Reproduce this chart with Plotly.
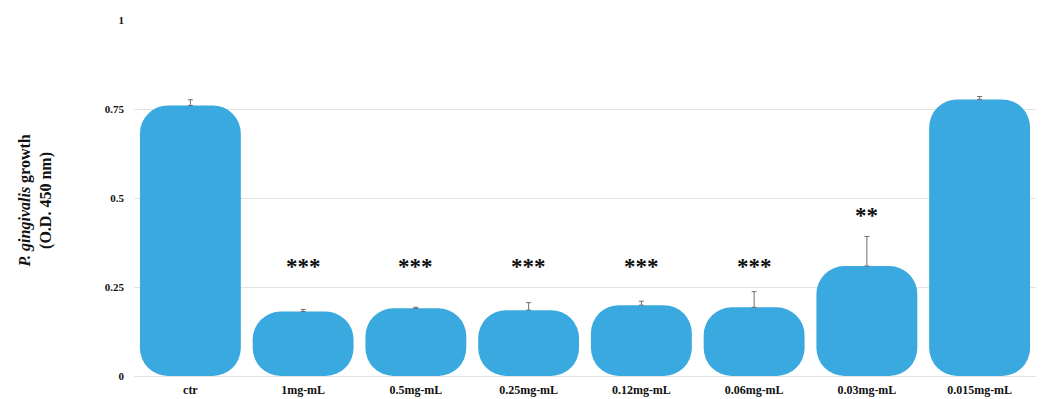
import plotly.graph_objects as go

categories = ["ctr", "1mg-mL", "0.5mg-mL", "0.25mg-mL", "0.12mg-mL", "0.06mg-mL", "0.03mg-mL", "0.015mg-mL"]
values = [0.760, 0.181, 0.190, 0.185, 0.199, 0.193, 0.309, 0.777]
errors = [0.016, 0.006, 0.003, 0.021, 0.011, 0.044, 0.083, 0.008]
stars = ["", "***", "***", "***", "***", "***", "**", ""]
star_levels = [None, 0.307, 0.307, 0.307, 0.307, 0.307, 0.450, None]
y_ticks = [0, 0.25, 0.5, 0.75, 1]
y_tick_labels = ["0", "0.25", "0.5", "0.75", "1"]

BAR_COLOR = "#3AA9DF"
FONT = "Liberation Serif"

fig = go.Figure()
# An explicit base makes plotly round both ends of each bar.
fig.add_trace(go.Bar(
    x=categories, y=values, base=[0] * len(values),
    marker=dict(color=BAR_COLOR, line=dict(width=0)),
    error_y=dict(type="data", array=errors, arrayminus=[0] * len(errors),
                 symmetric=False, color="#6f6f6f", thickness=1, width=2.5),
    hoverinfo="skip", showlegend=False,
))

for cat, s, lvl in zip(categories, stars, star_levels):
    if s and lvl is not None:
        fig.add_annotation(x=cat, y=lvl, text="<b>" + s + "</b>", showarrow=False,
                           xanchor="center", yanchor="middle",
                           font=dict(family=FONT, size=23, color="#111111"))

fig.add_annotation(
    xref="paper", yref="paper", x=-0.1086, y=0.49,
    text="<b><i>P. gingivalis</i> growth<br>(O.D. 450 nm)</b>",
    textangle=-90, showarrow=False, xanchor="center", yanchor="middle",
    font=dict(family=FONT, size=16, color="#111111"),
)

fig.update_layout(
    width=1041, height=399,
    margin=dict(l=134, r=5, t=20, b=23),
    paper_bgcolor="white", plot_bgcolor="white",
    barmode="overlay", bargap=0.105, barcornerradius=28,
    hovermode=False,
    font=dict(family=FONT, color="#111111"),
)
fig.update_xaxes(
    showgrid=False, showline=False, zeroline=False, ticks="",
    tickfont=dict(family=FONT, size=12, color="#111111", weight="bold"),
    ticklabelstandoff=5, automargin=False,
)
fig.update_yaxes(
    range=[0, 1], tickvals=y_ticks, ticktext=y_tick_labels,
    showgrid=True, gridcolor="#e3e3e3", gridwidth=1,
    zeroline=True, zerolinecolor="#e3e3e3", zerolinewidth=1,
    showline=False, ticks="",
    tickfont=dict(family=FONT, size=11, color="#111111", weight="bold"),
    ticklabelstandoff=9, automargin=False,
)

fig.write_html("out.html")
